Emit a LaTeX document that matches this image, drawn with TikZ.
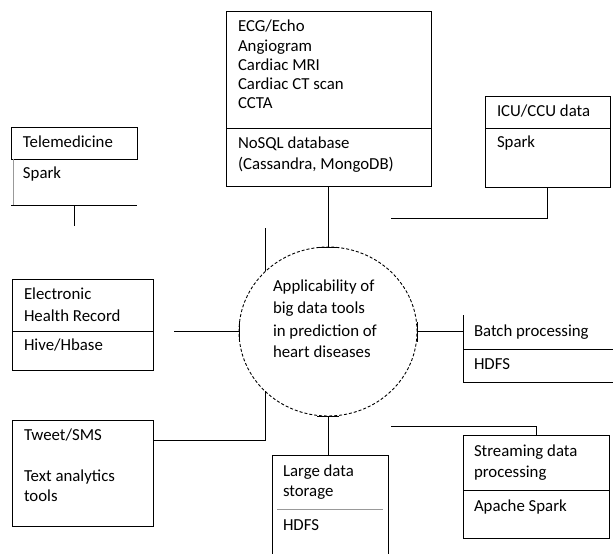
\documentclass[tikz,border=0pt]{standalone}
\usepackage{fontspec}
\setmainfont{Carlito}
\usetikzlibrary{shapes.geometric,calc}
\begin{document}
\begin{tikzpicture}[x=1pt,y=1pt,
  box/.style={draw, line width=1pt, inner sep=0, outer sep=0, rectangle},
  region/.style={inner sep=0, outer sep=0, rectangle},
  txt/.style={anchor=base west, inner sep=0, outer sep=0, font=\fontsize{16.8}{20}\selectfont},
  ln/.style={line width=1pt, black},
  faint/.style={line width=0.6pt, black!40},
  tbar/.style={line width=1pt},
]
\useasboundingbox (0,0) rectangle (613,-554);
% central ellipse
\node[draw, ellipse, dash pattern=on 3pt off 2pt, line width=0.9pt, minimum width=178, minimum height=169, inner sep=0, outer sep=0] (c) at (328,-331.5) {};
% boxes
\node[box, minimum width=205, minimum height=175] (ecg) at (328.5,-98.5) {};
\node[box, minimum width=125, minimum height=91] (icu) at (547.5,-141.5) {};
\node[box, minimum width=141, minimum height=91] (ehr) at (82.5,-324.5) {};
\node[box, minimum width=141, minimum height=106] (tweet) at (82.5,-473) {};
\node[box, minimum width=146, minimum height=103] (stream) at (536,-486.5) {};
\node[box, minimum width=126, minimum height=32] (telehead) at (74,-143) {};
\node[region, minimum width=126, minimum height=78] (tele) at (74,-166) {};
\node[region, minimum width=150, minimum height=67] (batch) at (538,-348.5) {};
\node[region, minimum width=116, minimum height=99] (large) at (330,-504.5) {};
% dividers and partial borders
\draw[ln] (ecg.west |- 0,-128) -- (ecg.east |- 0,-128);
\draw[ln] (icu.west |- 0,-128) -- (icu.east |- 0,-128);
\draw[ln] (ehr.west |- 0,-331) -- (ehr.east |- 0,-331);
\draw[ln] (stream.west |- 0,-490) -- (stream.east |- 0,-490);
\draw[ln] (batch.west |- 0,-349) -- (batch.east |- 0,-349);
\draw[faint] (277,-509) -- (383,-509);
\draw[faint] ([xshift=2]telehead.south west) -- ([xshift=2]tele.south west);
\draw[ln] (tele.south west) -- (tele.south east);
\draw[ln] (batch.north west) -- (batch.south west) -- (batch.south east);
\draw[ln] (large.south west) -- (large.north west) -- (large.north east) -- (large.south east);
% connectors
\draw[ln] (ecg.south) -- (ecg.south |- c.north);
\draw[tbar] ([xshift=-11]c.north) -- ([xshift=11]c.north);
\coordinate (ehrend) at (174,-331.5);
\draw[ln] (ehrend) -- (c.west);
\draw[tbar] ([yshift=-10]c.west) -- ([yshift=10]c.west);
\draw[ln] (c.east) -- (c.east -| batch.west);
\draw[tbar] ([yshift=-10]c.east) -- ([yshift=10]c.east);
\draw[ln] (c.south) -- (c.south |- large.north);
\draw[tbar] ([xshift=-11]c.south) -- ([xshift=11]c.south);
\coordinate (tw) at (265,-440);
\draw[ln] (tweet.east |- tw) -- (tw) -- (tw |- c.223.5);
\coordinate (lv) at (265,-228);
\draw[ln] (lv) -- (lv |- c.136.5);
\coordinate (teleend) at (74,-226);
\draw[ln] (tele.south) -- (teleend);
\coordinate (icuend) at (391,-218);
\draw[ln] (icu.south) -- (icu.south |- icuend) -- (icuend);
\coordinate (strend) at (391,-426);
\draw[ln] (stream.north) -- (stream.north |- strend) -- (strend);
% texts
\node[txt] (e1) at (238,-31.5) {ECG/Echo};
\node[txt] (e2) at (238,-51.5) {Angiogram};
\node[txt] (e3) at (238,-70.5) {Cardiac MRI};
\node[txt] (e4) at (238,-89.5) {Cardiac CT scan};
\node[txt] (e5) at (238,-108.5) {CCTA};
\node[txt] (e6) at (238,-148.5) {NoSQL database};
\node[txt] (e7) at (238,-169.5) {(Cassandra, MongoDB)};
\node[txt] (t1) at (23,-147.5) {Telemedicine};
\node[txt] (t2) at (23,-178.5) {Spark};
\node[txt] (i1) at (497,-116.5) {ICU/CCU data};
\node[txt] (i2) at (497,-147.5) {Spark};
\node[txt] (c1) at (273,-291.5) {Applicability of};
\node[txt] (c2) at (273,-313.5) {big data tools};
\node[txt] (c3) at (273,-336.5) {in prediction of};
\node[txt] (c4) at (273,-357.5) {heart diseases};
\node[txt] (h1) at (24,-299.5) {Electronic};
\node[txt] (h2) at (24,-321.5) {Health Record};
\node[txt] (h3) at (24,-350.5) {Hive/Hbase};
\node[txt] (w1) at (24,-440.5) {Tweet/SMS};
\node[txt] (w2) at (24,-481.5) {Text analytics};
\node[txt] (w3) at (24,-501.5) {tools};
\node[txt] (l1) at (283,-476.5) {Large data};
\node[txt] (l2) at (283,-496.5) {storage};
\node[txt] (l3) at (283,-530.5) {HDFS};
\node[txt] (b1) at (474,-336.5) {Batch processing};
\node[txt] (b2) at (474,-369.5) {HDFS};
\node[txt] (s1) at (474,-456.5) {Streaming data};
\node[txt] (s2) at (474,-477.5) {processing};
\node[txt] (s3) at (474,-511.5) {Apache Spark};
\end{tikzpicture}
\end{document}
